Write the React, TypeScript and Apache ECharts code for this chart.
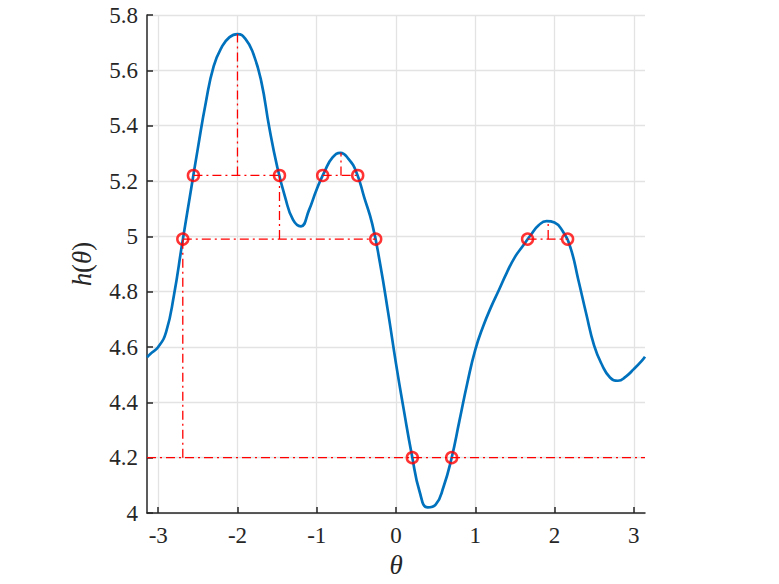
import React, { useEffect, useRef } from "react";
import * as echarts from "echarts";

const thetaValues = [
  -3.1416, -3.1, -3.0, -2.9, -2.8, -2.7, -2.6, -2.5, -2.4, -2.3,
  -2.2, -2.1, -2.0, -1.9, -1.8, -1.7, -1.6, -1.5, -1.4, -1.3,
  -1.2, -1.1, -1.0, -0.9, -0.8, -0.7, -0.6, -0.5, -0.4, -0.3,
  -0.2, -0.1, 0.0, 0.1, 0.2, 0.3, 0.4, 0.5, 0.6, 0.7,
  0.8, 0.9, 1.0, 1.1, 1.2, 1.3, 1.4, 1.5, 1.6, 1.7,
  1.8, 1.9, 2.0, 2.1, 2.2, 2.3, 2.4, 2.5, 2.6, 2.7,
  2.8, 2.9, 3.0, 3.1, 3.1416,
];
const hValues = [
  4.563, 4.575, 4.6, 4.655, 4.79, 4.97, 5.145, 5.318, 5.483, 5.615,
  5.683, 5.72, 5.731, 5.714, 5.66, 5.56, 5.395, 5.253, 5.143, 5.06,
  5.036, 5.093, 5.17, 5.235, 5.285, 5.302, 5.28, 5.232, 5.14, 5.045,
  4.9, 4.726, 4.54, 4.37, 4.21, 4.075, 4.02, 4.03, 4.095, 4.197,
  4.333, 4.47, 4.59, 4.675, 4.745, 4.807, 4.87, 4.925, 4.965, 5.005,
  5.04, 5.055, 5.05, 5.02, 4.96, 4.843, 4.72, 4.605, 4.535, 4.49,
  4.478, 4.493, 4.52, 4.55, 4.565,
];

const xTickValues = [-3, -2, -1, 0, 1, 2, 3];

const circleTheta = [-2.69, -2.556, -1.47, -0.925, -0.483, -0.256, 0.206, 0.702, 1.66, 2.165];
const circleH = [4.99, 5.22, 5.22, 5.22, 5.22, 4.99, 4.2, 4.2, 4.99, 4.99];

// guide segments: [theta1, h1, theta2, h2]
const guideSegments: number[][] = [
  [-3.1416, 4.2, 3.1416, 4.2],
  [-2.69, 4.2, -2.69, 4.99],
  [-2.69, 4.99, -0.256, 4.99],
  [-1.47, 4.99, -1.47, 5.22],
  [-2.556, 5.22, -1.47, 5.22],
  [-2.0, 5.22, -2.0, 5.731],
  [-0.925, 5.22, -0.483, 5.22],
  [-0.694, 5.22, -0.694, 5.302],
  [1.66, 4.99, 2.165, 4.99],
  [1.92, 4.99, 1.92, 5.056],
];

const FONT = "Liberation Serif";
const AX = "#262626";

const labelRich = { t: { fontFamily: FONT, fontSize: 23, color: AX } };
const fmt = (v: number) => `{t|${Number(v.toFixed(1)).toString()}}`;

export default function App() {
  const ref = useRef<HTMLDivElement>(null);
  useEffect(() => {
    if (!ref.current) return;
    const chart = echarts.init(ref.current, undefined, { renderer: "svg" });
    const curve = thetaValues.map((t, i) => [t, hValues[i]]);
    const circles = circleTheta.map((t, i) => [t, circleH[i]]);
    const guides = guideSegments.map((s) => ({
      type: "line" as const,
      data: [
        [s[0], s[1]],
        [s[2], s[3]],
      ],
      symbol: "none",
      silent: true,
      z: 3,
      lineStyle: { color: "#ff0000", width: 1.3, type: [9, 4, 2, 4] },
    }));
    chart.setOption({
      animation: false,
      backgroundColor: "#ffffff",
      textStyle: { fontFamily: FONT, fontSize: 23, color: AX },
      grid: { left: 147, right: 134, top: 15, bottom: 71 },
      xAxis: {
        type: "value",
        min: -Math.PI,
        max: Math.PI,
        name: "θ",
        nameLocation: "middle",
        nameGap: 36,
        nameTextStyle: { fontFamily: FONT, fontSize: 27, fontStyle: "italic", color: AX },
        axisLine: { show: true, onZero: false, lineStyle: { color: AX, width: 1.5 } },
        axisTick: { show: true, inside: true, length: 6, customValues: xTickValues, lineStyle: { color: AX, width: 1.5 } },
        axisLabel: {
          customValues: xTickValues,
          formatter: fmt,
          rich: labelRich,
          fontFamily: FONT,
          fontSize: 23,
          color: AX,
          margin: 11,
        },
        splitLine: { show: true, lineStyle: { color: "#e3e3e3", width: 1.3 } },
      },
      yAxis: {
        type: "value",
        min: 4,
        max: 5.8,
        interval: 0.2,
        name: "{i|h}{n|(}{i|θ}{n|)}",
        nameLocation: "middle",
        nameRotate: 90,
        nameGap: 52,
        nameTextStyle: {
          fontFamily: FONT,
          fontSize: 27,
          color: AX,
          rich: {
            i: { fontFamily: FONT, fontSize: 27, fontStyle: "italic", color: AX },
            n: { fontFamily: FONT, fontSize: 27, color: AX },
          },
        },
        axisLine: { show: true, onZero: false, lineStyle: { color: AX, width: 1.5 } },
        axisTick: { show: true, inside: true, length: 6, lineStyle: { color: AX, width: 1.5 } },
        axisLabel: { formatter: fmt, rich: labelRich, fontFamily: FONT, fontSize: 23, color: AX, margin: 9 },
        splitLine: { show: true, lineStyle: { color: "#e3e3e3", width: 1.3 } },
      },
      series: [
        {
          type: "line",
          data: curve,
          symbol: "none",
          smooth: 0.5,
          z: 2,
          lineStyle: { color: "#0072BD", width: 2.7 },
        },
        ...guides,
        {
          type: "scatter",
          data: circles,
          symbol: "circle",
          symbolSize: 11,
          z: 4,
          itemStyle: { color: "rgba(255,255,255,0)", borderColor: "#ff0000", borderWidth: 2.5 },
        },
      ],
    });
    return () => chart.dispose();
  }, []);
  return (
    <div
      ref={ref}
      style={{ position: "fixed", left: 0, top: 0, width: 779, height: 584 }}
    />
  );
}
